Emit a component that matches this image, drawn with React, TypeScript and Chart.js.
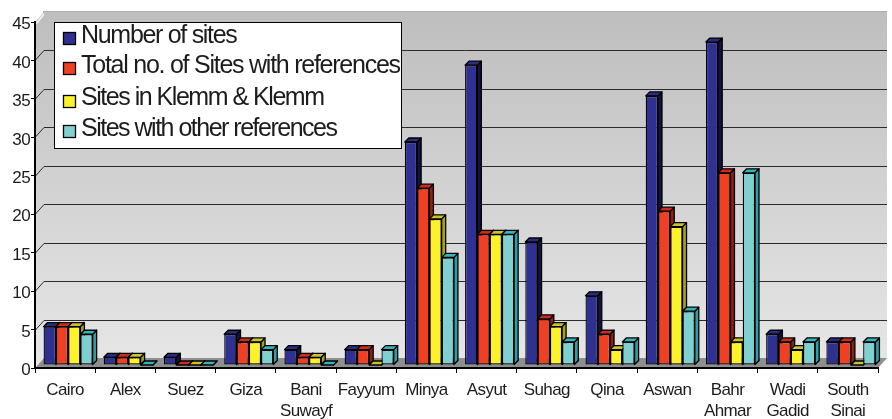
import React, { useEffect, useRef } from "react";
import { Chart, registerables } from "chart.js";

Chart.register(...registerables);

const categories: (string | string[])[] = ["Cairo", "Alex", "Suez", "Giza", ["Bani", "Suwayf"], "Fayyum", "Minya", "Asyut", "Suhag", "Qina", "Aswan", ["Bahr", "Ahmar"], ["Wadi", "Gadid"], ["South", "Sinai"]];
const numberOfSites = [5, 1, 1, 4, 2, 2, 29, 39, 16, 9, 35, 42, 4, 3];
const totalWithRefs = [5, 1, 0, 3, 1, 2, 23, 17, 6, 4, 20, 25, 3, 3];
const klemm = [5, 1, 0, 3, 1, 0, 19, 17, 5, 2, 18, 3, 2, 0];
const otherRefs = [4, 0, 0, 2, 0, 2, 14, 17, 3, 3, 7, 25, 3, 3];
const seriesNames = ["Number of sites", "Total no. of Sites with references", "Sites in Klemm & Klemm", "Sites with other references"];
const frontColors = ["#2e3192", "#f04023", "#fbf22b", "#7fd0d0"];
const sideColors = ["#12133f", "#8f1f12", "#a8a018", "#2c9ea4"];
const topColors = ["#2a2c80", "#cf2a1c", "#c9c22a", "#35b4ba"];

const FONT = '"Liberation Sans", Arial, sans-serif';
const DEPTH_X = 9;
const DEPTH_Y = 10;

const scene = {
  id: "scene",
  beforeDraw(chart: any) {
    const { ctx, chartArea: a, scales } = chart;
    const y = scales.y;
    const grad = ctx.createLinearGradient(0, a.top - DEPTH_Y, 0, a.bottom - DEPTH_Y);
    grad.addColorStop(0, "#bdbebd");
    grad.addColorStop(1, "#e5e6e5");
    ctx.letterSpacing = "-0.6px";
    y.getLabelItems().forEach((item: any) => { item.textOffset = 2.5; });
    ctx.save();
    ctx.fillStyle = "#adaead";
    ctx.fillRect(a.left + DEPTH_X - 1, a.top - DEPTH_Y - 1, a.width + 1, 2);
    ctx.fillStyle = grad;
    ctx.fillRect(a.left + DEPTH_X, a.top - DEPTH_Y, a.width, a.height);
    ctx.beginPath();
    ctx.moveTo(a.left, a.top);
    ctx.lineTo(a.left + DEPTH_X, a.top - DEPTH_Y);
    ctx.lineTo(a.left + DEPTH_X, a.bottom - DEPTH_Y);
    ctx.lineTo(a.left, a.bottom);
    ctx.closePath();
    ctx.fill();
    ctx.strokeStyle = "#f2f2f2";
    ctx.lineWidth = 2;
    ctx.beginPath();
    ctx.moveTo(a.left + 1, a.top + 2);
    ctx.lineTo(a.left + DEPTH_X, a.top - DEPTH_Y + 2);
    ctx.stroke();
    ctx.fillStyle = "#8e8f8e";
    ctx.beginPath();
    ctx.moveTo(a.left, a.bottom);
    ctx.lineTo(a.left + DEPTH_X, a.bottom - DEPTH_Y);
    ctx.lineTo(a.right + DEPTH_X, a.bottom - DEPTH_Y);
    ctx.lineTo(a.right, a.bottom);
    ctx.closePath();
    ctx.fill();
    ctx.strokeStyle = "#2b2b2b";
    ctx.lineWidth = 1;
    y.ticks.forEach((t: any) => {
      if (t.value === 0 || t.value === y.max) return;
      const py = Math.round(y.getPixelForValue(t.value)) + 0.5;
      ctx.beginPath();
      ctx.moveTo(a.left, py);
      ctx.lineTo(a.left + DEPTH_X, py - DEPTH_Y);
      ctx.lineTo(a.right + DEPTH_X, py - DEPTH_Y);
      ctx.stroke();
    });
    ctx.restore();
  },
  beforeDatasetsDraw(chart: any) {
    const { ctx } = chart;
    const d = 4;
    ctx.save();
    ctx.translate(3, -3);
    const count = chart.data.datasets.length;
    chart.data.labels.forEach((_: any, idx: number) => {
      for (let i = 0; i < count; i++) {
        const bar = chart.getDatasetMeta(i).data[idx];
        const { x, y, base, width } = bar.getProps(["x", "y", "base", "width"], true);
        const l = x - width / 2;
        const r = x + width / 2;
        ctx.strokeStyle = "#000";
        ctx.lineWidth = 1.3;
        ctx.lineJoin = "round";
        ctx.fillStyle = sideColors[i];
        ctx.beginPath();
        ctx.moveTo(r, y);
        ctx.lineTo(r + d, y - d);
        ctx.lineTo(r + d, base - d);
        ctx.lineTo(r, base);
        ctx.closePath();
        ctx.fill();
        ctx.stroke();
        ctx.fillStyle = topColors[i];
        ctx.beginPath();
        ctx.moveTo(l, y);
        ctx.lineTo(l + d, y - d);
        ctx.lineTo(r + d, y - d);
        ctx.lineTo(r, y);
        ctx.closePath();
        ctx.fill();
        ctx.stroke();
        bar.draw(ctx);
      }
    });
    ctx.restore();
    return false;
  },
  afterDraw(chart: any) {
    const { ctx } = chart;
    const bx = 54, by = 22, bw = 348, bh = 127;
    ctx.save();
    ctx.fillStyle = "#fff";
    ctx.fillRect(bx, by, bw, bh);
    ctx.strokeStyle = "#000";
    ctx.lineWidth = 1;
    ctx.strokeRect(bx + 0.5, by + 0.5, bw - 1, bh - 1);
    ctx.font = `25px ${FONT}`;
    ctx.textBaseline = "middle";
    const rows = [36, 66, 98, 129];
    const swatches = [32, 62, 95, 125];
    const spacing = [-1.3, -1.25, -1.48, -1.5];
    seriesNames.forEach((name, i) => {
      ctx.fillStyle = frontColors[i];
      ctx.fillRect(63.5, swatches[i] + 0.5, 12, 12);
      ctx.strokeStyle = "#000";
      ctx.lineWidth = 1.3;
      ctx.strokeRect(63.5, swatches[i] + 0.5, 12, 12);
      ctx.fillStyle = "#1c1c1c";
      ctx.letterSpacing = `${spacing[i]}px`;
      ctx.fillText(name, 81, rows[i]);
    });
    ctx.restore();
  },
};

export default function App() {
  const ref = useRef<HTMLCanvasElement>(null);
  useEffect(() => {
    const chart = new Chart(ref.current!, {
      type: "bar",
      data: {
        labels: categories as any,
        datasets: [numberOfSites, totalWithRefs, klemm, otherRefs].map((data, i) => ({
          label: seriesNames[i],
          data,
          backgroundColor: frontColors[i],
          borderColor: "#000",
          borderWidth: 1.3,
          borderSkipped: false,
          categoryPercentage: 0.815,
          barPercentage: 1,
        })),
      },
      options: {
        responsive: false,
        animation: false,
        devicePixelRatio: 1,
        layout: { padding: { top: 22, right: 14, left: 0, bottom: 0 } },
        plugins: { legend: { display: false }, tooltip: { enabled: false }, title: { display: false } },
        scales: {
          x: {
            offset: true,
            afterFit: (s: any) => { s.height = 51; },
            grid: { drawOnChartArea: false, drawTicks: true, tickLength: 5, color: "#000", offset: true },
            border: { color: "#000", width: 2 },
            ticks: { color: "#1c1c1c", font: { family: FONT, size: 17, lineHeight: 1.24 }, padding: 7, maxRotation: 0, autoSkip: false },
          },
          y: {
            min: 0,
            max: 45,
            afterFit: (s: any) => { s.width = 35; },
            grid: { drawOnChartArea: false, drawTicks: true, tickLength: 4, color: "#000" },
            border: { color: "#000", width: 2 },
            ticks: { stepSize: 5, color: "#1c1c1c", font: { family: FONT, size: 17 }, padding: 1 },
          },
        },
      },
      plugins: [scene as any],
    });
    return () => chart.destroy();
  }, []);
  return (
    <div style={{ position: "absolute", left: 0, top: 0, width: 892, height: 419, background: "#fff" }}>
      <canvas ref={ref} width={892} height={419} style={{ display: "block" }} />
    </div>
  );
}
